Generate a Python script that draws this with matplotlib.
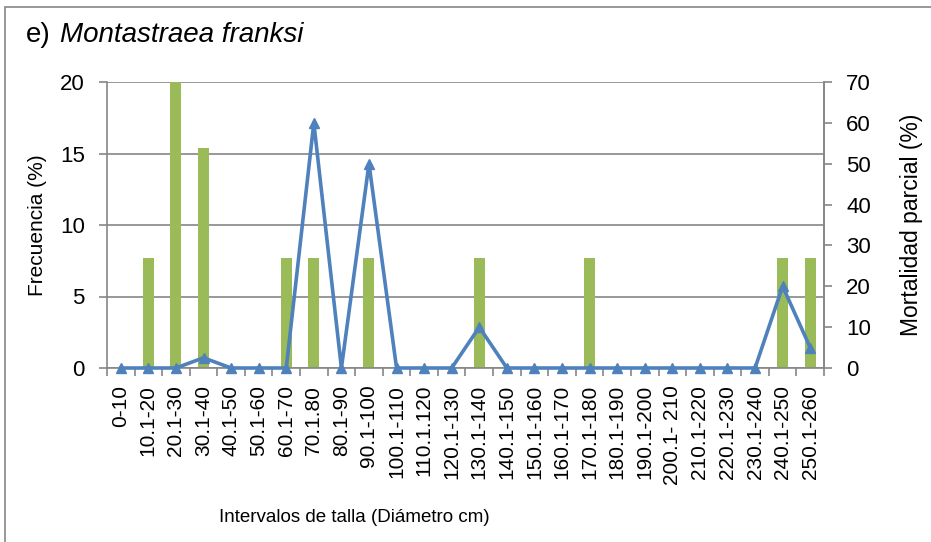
import matplotlib
matplotlib.use("Agg")
import matplotlib.pyplot as plt
import numpy as np
from matplotlib.patches import Rectangle

categories = ["0-10", "10.1-20", "20.1-30", "30.1-40", "40.1-50", "50.1-60",
              "60.1-70", "70.1.80", "80.1-90", "90.1-100", "100.1-110",
              "110.1.120", "120.1-130", "130.1-140", "140.1-150", "150.1-160",
              "160.1-170", "170.1-180", "180.1-190", "190.1-200", "200.1- 210",
              "210.1-220", "220.1-230", "230.1-240", "240.1-250", "250.1-260"]
frecuencia = [0, 7.7, 23.1, 15.4, 0, 0, 7.7, 7.7, 0, 7.7, 0, 0, 0, 7.7, 0, 0,
              0, 7.7, 0, 0, 0, 0, 0, 0, 7.7, 7.7]
mortalidad = [0, 0, 0, 2.5, 0, 0, 0, 60, 0, 50, 0, 0, 0, 10, 0, 0, 0, 0, 0, 0,
              0, 0, 0, 0, 20, 5]
left_ticks = [0, 5, 10, 15, 20]
right_ticks = [0, 10, 20, 30, 40, 50, 60, 70]

plt.rcParams['font.family'] = ['Liberation Sans', 'DejaVu Sans']
GRAY = "#868686"
GREEN = "#9BBB59"
BLUE = "#4F81BD"

fig = plt.figure(figsize=(9.31, 5.42), dpi=100)
ax = fig.add_axes([107/931, 1-368/542, (824-107)/931, (368-82)/542])
x = np.arange(len(categories))

ax.bar(x, frecuencia, width=0.4, color=GREEN, zorder=2)
ax.set_xlim(-0.5, len(categories)-0.5)
ax.set_ylim(0, 20)
ax.set_yticks(left_ticks)
ax.yaxis.grid(True, color=GRAY, linewidth=1.2, zorder=0)
ax.set_axisbelow(True)
ax.set_xticks(x)
ax.set_xticklabels(categories, rotation=90, fontsize=15)
ax.set_xticks(np.arange(-0.5, len(categories)), minor=True)
ax.tick_params(axis='x', which='major', length=0, pad=12)
ax.tick_params(axis='x', which='minor', length=6, width=1.2, color=GRAY, direction='out')
ax.tick_params(axis='y', length=6, width=1.2, color=GRAY, labelsize=16, pad=10)
ax.spines['top'].set_visible(False)
for s in ['left', 'bottom', 'right']:
    ax.spines[s].set_color(GRAY)
    ax.spines[s].set_linewidth(1.2)
ax.set_ylabel("Frecuencia (%)", fontsize=15, labelpad=9)

fig.text(354/931, 1-517/542, "Intervalos de talla (Diámetro cm)", fontsize=13.5,
         ha='center', va='center')

ax2 = ax.twinx()
ax2.plot(x, mortalidad, color=BLUE, linewidth=2.6, marker='^', markersize=7,
         zorder=3, clip_on=False)
ax2.set_ylim(0, 70)
ax2.set_yticks(right_ticks)
ax2.tick_params(axis='y', length=6, width=1.2, color=GRAY, labelsize=16, pad=10)
for s in ['top', 'left', 'bottom']:
    ax2.spines[s].set_visible(False)
ax2.spines['right'].set_color(GRAY)
ax2.spines['right'].set_linewidth(1.2)
ax2.set_ylabel("Mortalidad parcial (%)", fontsize=16.5, labelpad=21)

fig.text(26/931, 1-35/542, "e)", fontsize=20, va='center', ha='left')
fig.text(60/931, 1-35/542, "Montastraea franksi", fontsize=20,
         style='italic', va='center', ha='left')

fig.patches.append(Rectangle((5/931, -0.1), 1.2, 1-7/542+0.1, transform=fig.transFigure,
                             fill=False, edgecolor=GRAY, linewidth=1.2))

fig.savefig("out.png", dpi=100)
